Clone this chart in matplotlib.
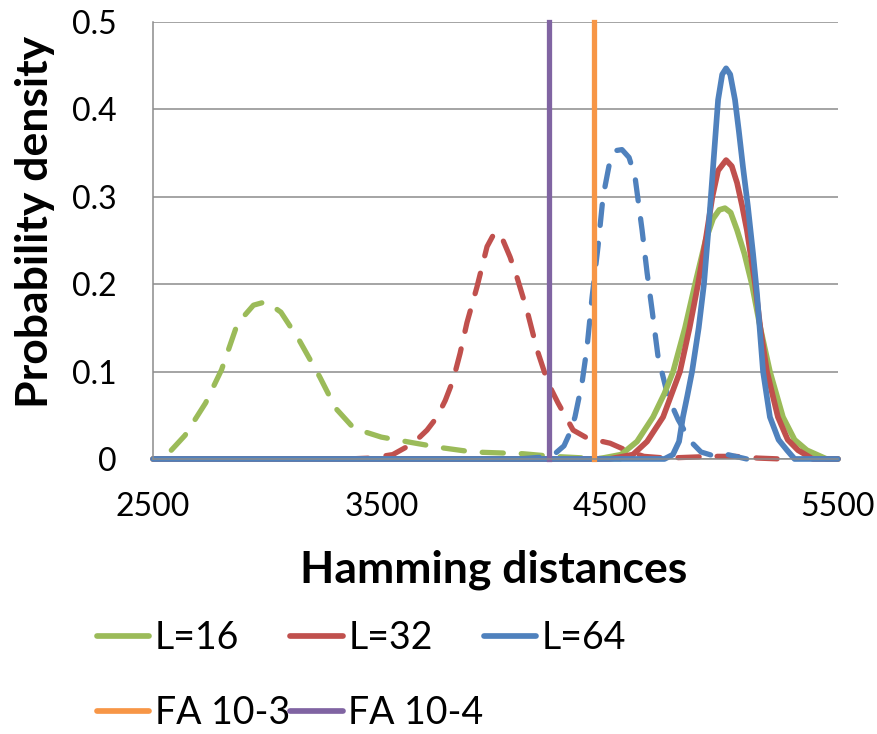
import matplotlib
matplotlib.use("Agg")
import matplotlib.pyplot as plt
from matplotlib.lines import Line2D

green_dash_x = [2580, 2640, 2730, 2800, 2870, 2940, 2995, 3060, 3140, 3230, 3300, 3380,
                3500, 3650, 3760, 3900, 4120, 4250, 4400, 4550]
green_dash_y = [0.010, 0.027, 0.064, 0.102, 0.155, 0.176, 0.180, 0.168, 0.136, 0.094, 0.058, 0.035,
                0.025, 0.018, 0.013, 0.008, 0.006, 0.003, 0.001, 0.0]

red_dash_x = [3350, 3450, 3550, 3612, 3656, 3700, 3744, 3780, 3814, 3845, 3875, 3919, 3963, 3998,
              4030, 4064, 4094, 4138, 4182, 4230, 4274, 4340, 4401, 4502, 4589, 4650, 4750, 4850,
              4950, 5050, 5150, 5250]
red_dash_y = [0.0, 0.001, 0.005, 0.014, 0.022, 0.033, 0.048, 0.067, 0.090, 0.121, 0.156, 0.197, 0.243, 0.260,
              0.252, 0.231, 0.208, 0.170, 0.125, 0.087, 0.064, 0.033, 0.024, 0.018, 0.008, 0.003, 0.001, 0.002,
              0.003, 0.003, 0.001, 0.0]

blue_dash_x = [4100, 4200, 4260, 4300, 4326, 4348, 4379, 4401, 4423, 4449, 4471, 4502, 4530, 4554,
               4585, 4611, 4642, 4664, 4686, 4712, 4756, 4800, 4855, 4900, 4950, 5000, 5050, 5100]
blue_dash_y = [0.0, 0.002, 0.006, 0.015, 0.030, 0.048, 0.087, 0.128, 0.185, 0.243, 0.300, 0.342, 0.353, 0.354,
               0.345, 0.323, 0.262, 0.213, 0.170, 0.117, 0.071, 0.045, 0.020, 0.008, 0.004, 0.006, 0.003, 0.0]

l16_x = [2500, 4450, 4550, 4620, 4690, 4740, 4778, 4830, 4874, 4920, 4953, 4980, 5005, 5030,
         5058, 5090, 5123, 5160, 5202, 5259, 5310, 5364, 5450, 5500]
l16_y = [0, 0.0, 0.005, 0.020, 0.048, 0.075, 0.100, 0.150, 0.200, 0.250, 0.275, 0.285, 0.287, 0.282,
         0.262, 0.235, 0.200, 0.150, 0.100, 0.048, 0.022, 0.010, 0.0, 0]

l32_x = [2500, 4500, 4602, 4664, 4734, 4808, 4850, 4887, 4920, 4950, 4975, 5010, 5035, 5058,
         5080, 5101, 5137, 5160, 5189, 5237, 5280, 5325, 5390, 5500]
l32_y = [0, 0.0, 0.005, 0.020, 0.048, 0.100, 0.150, 0.200, 0.250, 0.300, 0.330, 0.342, 0.335, 0.316,
         0.290, 0.262, 0.200, 0.150, 0.100, 0.048, 0.022, 0.010, 0.0, 0]

l64_x = [2500, 4740, 4777, 4804, 4821, 4840, 4861, 4890, 4913, 4935, 4953, 4975, 4993, 5010,
         5028, 5049, 5066, 5084, 5105, 5128, 5145, 5172, 5202, 5240, 5277, 5310, 5500]
l64_y = [0, 0.0, 0.005, 0.020, 0.048, 0.072, 0.100, 0.150, 0.200, 0.270, 0.334, 0.411, 0.440, 0.447,
         0.440, 0.411, 0.375, 0.334, 0.290, 0.235, 0.190, 0.100, 0.048, 0.022, 0.010, 0.0, 0]

fa3_x = 4430
fa4_x = 4235
fa_y = [0, 0.5]

x_ticks = [2500, 3500, 4500, 5500]
y_ticks = [0, 0.1, 0.2, 0.3, 0.4, 0.5]
y_tick_labels = ["0", "0.1", "0.2", "0.3", "0.4", "0.5"]

green = "#9BBB59"
red = "#C0504D"
blue = "#4F81BD"
orange = "#F79646"
purple = "#8064A2"

plt.rcParams["font.family"] = ["Lato", "DejaVu Sans"]

fig = plt.figure(figsize=(8.78, 7.34), dpi=100)
ax = fig.add_axes([0.1743, 0.3747, 0.7801, 0.5953])

dash_kw = dict(linewidth=3.8, dashes=(4.0, 3.4), dash_capstyle="round", clip_on=False)
ax.plot(green_dash_x, green_dash_y, color=green, **dash_kw)
ax.plot(red_dash_x, red_dash_y, color=red, **dash_kw)
ax.plot(blue_dash_x, blue_dash_y, color=blue, **dash_kw)

solid_kw = dict(linewidth=4.1, solid_joinstyle="round", solid_capstyle="round", clip_on=False)
ax.plot(l16_x, l16_y, color=green, **solid_kw)
ax.plot(l32_x, l32_y, color=red, **solid_kw)
ax.plot(l64_x, l64_y, color=blue, **solid_kw)

ax.plot([fa3_x, fa3_x], fa_y, color=orange, linewidth=3.8, clip_on=False)
ax.plot([fa4_x, fa4_x], fa_y, color=purple, linewidth=3.8, clip_on=False)

ax.set_xlim(2500, 5500)
ax.set_ylim(0, 0.5)
ax.set_xticks(x_ticks)
ax.set_xticklabels([str(t) for t in x_ticks])
ax.set_yticks(y_ticks)
ax.set_yticklabels(y_tick_labels)
ax.tick_params(axis="both", length=0, labelsize=23)
ax.tick_params(axis="y", pad=26)
ax.tick_params(axis="x", pad=24)

ax.yaxis.grid(True, color="#8c8c8c", linewidth=1.1)
ax.set_axisbelow(True)
for s in ["top", "right"]:
    ax.spines[s].set_visible(False)
for s in ["left", "bottom"]:
    ax.spines[s].set_color("#8c8c8c")
    ax.spines[s].set_linewidth(1.1)

fig.text(494 / 878, 1 - 570 / 734, "Hamming distances", ha="center", va="center",
         fontsize=32, fontweight="bold")
fig.text(35 / 878, 1 - 222 / 734, "Probability density", ha="center", va="center",
         rotation=90, fontsize=32, fontweight="bold")

handles = [
    Line2D([], [], color=green, linewidth=4.1, solid_capstyle="round"),
    Line2D([], [], color=orange, linewidth=4.1, solid_capstyle="round"),
    Line2D([], [], color=red, linewidth=4.1, solid_capstyle="round"),
    Line2D([], [], color=purple, linewidth=4.1, solid_capstyle="round"),
    Line2D([], [], color=blue, linewidth=4.1, solid_capstyle="round"),
]
labels = ["L=16", "FA 10-3", "L=32", "FA 10-4", "L=64"]
fig.legend(handles, labels, loc="upper left", bbox_to_anchor=(97 / 878, 1 - 620 / 734),
           ncol=3, frameon=False, borderpad=0, borderaxespad=0,
           handlelength=1.4, handletextpad=0.15, columnspacing=0.0, labelspacing=1.05,
           prop={"family": ["Lato"], "size": 27})

fig.savefig("out.png", dpi=100)
